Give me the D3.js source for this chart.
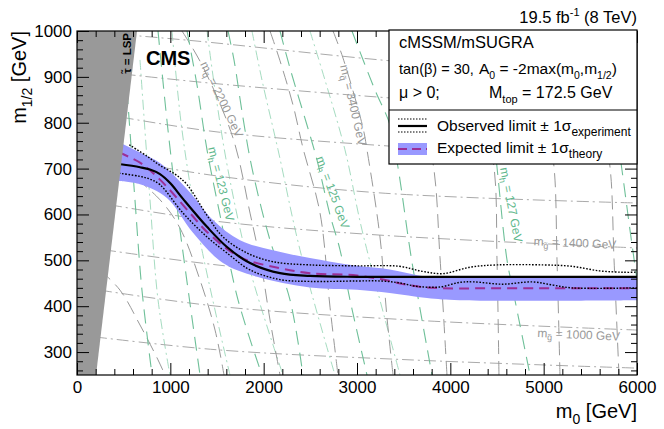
<!DOCTYPE html>
<html>
<head>
<meta charset="utf-8">
<script src="https://d3js.org/d3.v7.min.js"></script>
<style>
  body { margin: 0; background: #fff; }
  svg { font-family: "Liberation Sans", Arial, Helvetica, sans-serif; }
</style>
</head>
<body>
<div id="chart"></div>
<script>
var w = 664;
var h = 429;
var plotLeft = 77, plotRight = 637, plotTop = 31, plotBottom = 375;

// axis ticks
var xTicks = [0, 1000, 2000, 3000, 4000, 5000, 6000];
var yTicks = [300, 400, 500, 600, 700, 800, 900, 1000];

// limits, (m0, m1/2) in GeV
var observed = [[450,710],[675,703],[782,698],[889,688],[1000,668],[1136,634],[1393,573],[1607,529],[1854,494],[2175,472],[2496,466],[3000,464],[4000,464],[5000,464],[6000,464]];
var observedUp = [[560,752],[750,727],[889,707],[1050,688],[1179,665],[1393,598],[1564,551],[1821,516],[2100,497],[2496,490],[3000,488],[3450,487],[3700,476],[3920,471],[4210,485],[4500,490],[5000,490],[5300,487],[5600,477],[5850,474],[6000,474]];
var observedDown = [[450,690],[675,683],[782,677],[889,665],[1136,603],[1393,551],[1607,516],[1854,479],[2175,458],[2496,454],[3000,455],[3250,455],[3450,451],[3650,443],[3890,442],[4100,452],[4250,453],[4560,448],[4880,453],[5100,446],[5300,440],[6000,440]];
var expected = [[450,735],[675,713],[889,676],[1211,603],[1393,562],[1747,507],[2175,483],[2496,472],[3000,467],[3280,458],[3550,446],[3814,440],[4500,439],[6000,439]];
var theoryUp = [[450,758],[675,735],[889,712],[1211,648],[1457,588],[1747,544],[2100,522],[2496,505],[3000,488],[3350,480],[3750,464],[4200,462],[6000,462]];
var theoryDown = [[450,673],[675,666],[964,636],[1243,560],[1564,494],[1929,464],[2496,441],[3000,436],[3350,429],[3750,418],[4100,413],[6000,413]];

// stau = LSP excluded region
var lspRegion = [[0,250],[204,250],[643,1000],[0,1000]];

// squark mass contours (gray dashed)
var squarkLines = [
  [[246,479],[461,435],[675,359],[868,283],[943,250]],
  [[461,708],[889,632],[1104,570],[1318,457],[1479,348],[1575,250]],
  [[1125,1000],[1339,926],[1671,767],[1854,603],[1982,479],[2068,370],[2175,250]],
  [[2068,1000],[2175,935],[2314,839],[2421,745],[2604,603],[2711,398],[2796,250]],
  [[2743,1000],[2850,941],[3064,789],[3107,741],[3246,551],[3321,376],[3386,250]],
  [[3407,1000],[3621,871],[3814,712],[3889,507],[3964,250]],
  [[4050,1000],[4318,850],[4468,703],[4500,501],[4521,250]],
  [[4746,1000],[5014,828],[5111,703],[5143,501],[5175,250]],
  [[5389,1000],[5604,828],[5711,703],[5754,501],[5807,250]]
];

// gluino mass contours (gray dash-dot)
var gluinoLines = [
  [[500,992],[1286,978],[3354,935],[6000,893]],
  [[500,906],[1500,885],[3354,854],[6000,817]],
  [[480,812],[1500,780],[3354,749],[6000,719]],
  [[430,720],[1500,684],[3246,647],[6000,625]],
  [[354,621],[1500,585],[3246,555],[6000,527]],
  [[289,523],[1500,490],[3246,457],[6000,435]],
  [[246,435],[1500,400],[3568,370],[6000,348]],
  [[193,333],[1500,305],[3568,283],[6000,265]]
];

// higgs mass contours (green dashed, 121 ... 128 GeV)
var higgsLines = [
  [[536,871],[621,632],[696,435],[804,250]],
  [[868,1000],[975,784],[1104,566],[1318,250]],
  [[1179,1000],[1286,882],[1393,741],[1532,599],[1725,414],[1982,250]],
  [[1618,1000],[1682,937],[1779,810],[1875,701],[2068,544],[2282,414],[2421,250]],
  [[2175,1000],[2282,919],[2464,795],[2571,719],[2711,599],[2818,523],[2925,414],[3107,250]],
  [[2946,1000],[3193,871],[3354,795],[3439,703],[3589,496],[3804,250]],
  [[4275,1000],[4425,850],[4500,703],[4607,501],[4671,435],[4854,250]],
  [[5604,1000],[5732,850],[5839,697],[5925,566],[6000,457]]
];

// intermediate higgs contours (green dash-dot)
var higgsHalfLines = [
  [[675,937],[782,632],[868,414],[996,250]],
  [[1018,1000],[1125,784],[1318,544],[1639,250]],
  [[1393,1000],[1479,871],[1618,697],[1854,479],[2207,250]],
  [[1875,1000],[1982,893],[2154,741],[2389,523],[2764,250]],
  [[2496,1000],[2657,893],[2871,741],[3054,566],[3461,250]]
];

// contour labels: [m0, m1/2, angle, name, subscript, value, colour]
var contourLabels = [
  [1318, 928, 64, "m", "q\u0303", " = 2200 GeV", "#999999"],
  [2818, 924, 77, "m", "q\u0303", " = 3400 GeV", "#999999"],
  [1404, 745, 76, "m", "h", " = 123 GeV", "#5fb88d"],
  [2561, 723, 70, "m", "h", " = 125 GeV", "#5fb88d"],
  [4532, 701, 79, "m", "h", " = 127 GeV", "#5fb88d"],
  [4890, 533, 2.5, "m", "g\u0303", " = 1400 GeV", "#999999"],
  [4930, 333, 2.5, "m", "g\u0303", " = 1000 GeV", "#999999"]
];

var svg = d3
  .select("#chart")
  .append("svg")
  .attr("width", w)
  .attr("height", h);

// Scales
var xScale = d3.scaleLinear().domain([0, 6000]).range([plotLeft, plotRight]);
var yScale = d3.scaleLinear().domain([250, 1000]).range([plotBottom, plotTop]);

svg.append("clipPath").attr("id", "clip")
  .append("rect")
  .attr("x", plotLeft).attr("y", plotTop)
  .attr("width", plotRight - plotLeft).attr("height", plotBottom - plotTop);

var plot = svg.append("g").attr("clip-path", "url(#clip)");

var line = d3.line()
  .x(function (d) { return xScale(d[0]); })
  .y(function (d) { return yScale(d[1]); })
  .curve(d3.curveCatmullRom.alpha(0.5));

function drawLines(data, color, dash, width) {
  plot.append("g")
    .selectAll("path")
    .data(data)
    .enter()
    .append("path")
    .attr("d", line)
    .attr("fill", "none")
    .attr("stroke", color)
    .attr("stroke-width", width)
    .attr("stroke-dasharray", dash);
}

// Background contours
drawLines(higgsHalfLines, "#a6dcc1", "10,4,2,4", 1);
drawLines(gluinoLines, "#aaaaaa", "12,4,2,4", 1);
drawLines(squarkLines, "#999999", "14,7", 1);
drawLines(higgsLines, "#6fc099", "14,8", 1.1);

// Theory band around expected limit
var bandPath = line(theoryUp) + line(theoryDown.slice().reverse()).replace(/^M/, "L") + "Z";
plot.append("path")
  .attr("d", bandPath)
  .attr("fill", "#9999ff")
  .attr("stroke", "none");

// Limit curves
drawLines([expected], "#9b2f96", "10,6", 2);
drawLines([observedUp, observedDown], "#000", "1.6,1.6", 1.4);
drawLines([observed], "#000", null, 2.2);

// stau LSP region
plot.append("path")
  .datum(lspRegion)
  .attr("d", d3.line()
    .x(function (d) { return xScale(d[0]); })
    .y(function (d) { return yScale(d[1]); }))
  .attr("fill", "#999999");

// Contour labels
contourLabels.forEach(function (c) {
  var t = svg.append("text")
    .attr("transform", "translate(" + xScale(c[0]) + "," + yScale(c[1]) + ") rotate(" + c[2] + ")")
    .attr("fill", c[6])
    .style("font-size", "12px");
  t.append("tspan").text(c[3]);
  t.append("tspan").attr("dy", 3).style("font-size", "9px").text(c[4]);
  t.append("tspan").attr("dy", -3).text(c[5]);
});

svg.append("text")
  .attr("transform", "translate(131,33) rotate(-90)")
  .attr("text-anchor", "end")
  .style("font-size", "11.5px")
  .style("font-weight", "bold")
  .text("\u03c4\u0303 = LSP");

// Axes
var minorX = d3.range(0, 6001, 200).filter(function (v) { return v % 1000 !== 0; });
var minorY = d3.range(260, 1001, 20).filter(function (v) { return v % 100 !== 0; });

function axisGroup(axis, tx, ty) {
  var g = svg.append("g")
    .attr("transform", "translate(" + tx + "," + ty + ")")
    .call(axis);
  g.select(".domain").remove();
  g.selectAll("line").attr("stroke", "#000");
  g.selectAll("text")
    .style("font-size", "17px")
    .attr("fill", "#000")
    .style("font-family", "'Liberation Sans', Arial, sans-serif");
  return g;
}

axisGroup(d3.axisLeft(yScale).tickValues(yTicks).tickSize(-12).tickPadding(5).tickFormat(d3.format("d")), plotLeft, 0);
axisGroup(d3.axisLeft(yScale).tickValues(minorY).tickSize(-6).tickFormat(""), plotLeft, 0);
axisGroup(d3.axisRight(yScale).tickValues(yTicks).tickSize(-12).tickFormat(""), plotRight, 0);
axisGroup(d3.axisRight(yScale).tickValues(minorY).tickSize(-6).tickFormat(""), plotRight, 0);
axisGroup(d3.axisBottom(xScale).tickValues(xTicks).tickSize(-12).tickPadding(6).tickFormat(d3.format("d")), 0, plotBottom);
axisGroup(d3.axisBottom(xScale).tickValues(minorX).tickSize(-6).tickFormat(""), 0, plotBottom);
axisGroup(d3.axisTop(xScale).tickValues(xTicks).tickSize(-12).tickFormat(""), 0, plotTop);
axisGroup(d3.axisTop(xScale).tickValues(minorX).tickSize(-6).tickFormat(""), 0, plotTop);

svg.append("rect")
  .attr("x", plotLeft).attr("y", plotTop)
  .attr("width", plotRight - plotLeft).attr("height", plotBottom - plotTop)
  .attr("fill", "none")
  .attr("stroke", "#000")
  .attr("stroke-width", 1.2);

// Text with sub/superscripts: parts = [[text, "sub"|"sup"|null], ...]
function richText(parent, x, y, parts, size, smallSize, anchor) {
  var t = parent.append("text")
    .attr("x", x).attr("y", y)
    .attr("text-anchor", anchor || "start")
    .style("font-size", size + "px");
  var shift = 0;
  parts.forEach(function (p) {
    var target = p[1] === "sub" ? size * 0.32 : (p[1] === "sup" ? -size * 0.42 : 0);
    t.append("tspan")
      .attr("dy", target - shift)
      .style("font-size", (p[1] ? smallSize : size) + "px")
      .text(p[0]);
    shift = target;
  });
  return t;
}

// Axis titles
richText(svg, plotRight, 418, [["m"], ["0", "sub"], [" [GeV]"]], 20, 14, "end");
var yTitle = svg.append("g").attr("transform", "translate(26," + plotTop + ") rotate(-90)");
richText(yTitle, 0, 0, [["m"], ["1/2", "sub"], [" [GeV]"]], 20, 14, "end");

// Headers
richText(svg, plotRight, 23, [["19.5 fb"], ["-1", "sup"], [" (8 TeV)"]], 16.5, 11, "end");
svg.append("text")
  .attr("x", 146).attr("y", 65)
  .style("font-size", "20px")
  .style("font-weight", "bold")
  .text("CMS");

// Legend box
var legend = svg.append("g");
legend.append("rect")
  .attr("x", 389).attr("y", 30)
  .attr("width", 248).attr("height", 134)
  .attr("fill", "#fff")
  .attr("stroke", "#000")
  .attr("stroke-width", 1.2);
legend.append("line")
  .attr("x1", 389).attr("x2", 637)
  .attr("y1", 110).attr("y2", 110)
  .attr("stroke", "#000").attr("stroke-width", 1.2);

richText(legend, 399, 48, [["cMSSM/mSUGRA"]], 16.5, 11);
richText(legend, 399, 74, [["tan(\u03b2) = 30,"]], 14.5, 11);
richText(legend, 479, 74, [["A"], ["0", "sub"], [" = -2max(m"], ["0", "sub"], [",m"], ["1/2", "sub"], [")"]], 15.5, 10.5);
richText(legend, 399, 98, [["\u03bc > 0;"]], 16, 11);
richText(legend, 489, 98, [["M"], ["top", "sub"], [" = 172.5 GeV"]], 16, 11);

legend.append("line").attr("x1", 398).attr("x2", 427).attr("y1", 119).attr("y2", 119)
  .attr("stroke", "#000").attr("stroke-width", 1.2).attr("stroke-dasharray", "1.5,1.5");
legend.append("line").attr("x1", 398).attr("x2", 427).attr("y1", 126).attr("y2", 126)
  .attr("stroke", "#000").attr("stroke-width", 2.2);
legend.append("line").attr("x1", 398).attr("x2", 427).attr("y1", 132).attr("y2", 132)
  .attr("stroke", "#000").attr("stroke-width", 1.2).attr("stroke-dasharray", "1.5,1.5");
richText(legend, 437, 131, [["Observed limit \u00b1 1\u03c3"], ["experiment", "sub"]], 15.5, 12);

legend.append("rect").attr("x", 398).attr("y", 143).attr("width", 29).attr("height", 12)
  .attr("fill", "#9999ff");
legend.append("line").attr("x1", 398).attr("x2", 427).attr("y1", 149).attr("y2", 149)
  .attr("stroke", "#9b2f96").attr("stroke-width", 2).attr("stroke-dasharray", "9,5");
richText(legend, 437, 153, [["Expected limit \u00b1 1\u03c3"], ["theory", "sub"]], 15.5, 12);
</script>
</body>
</html>
